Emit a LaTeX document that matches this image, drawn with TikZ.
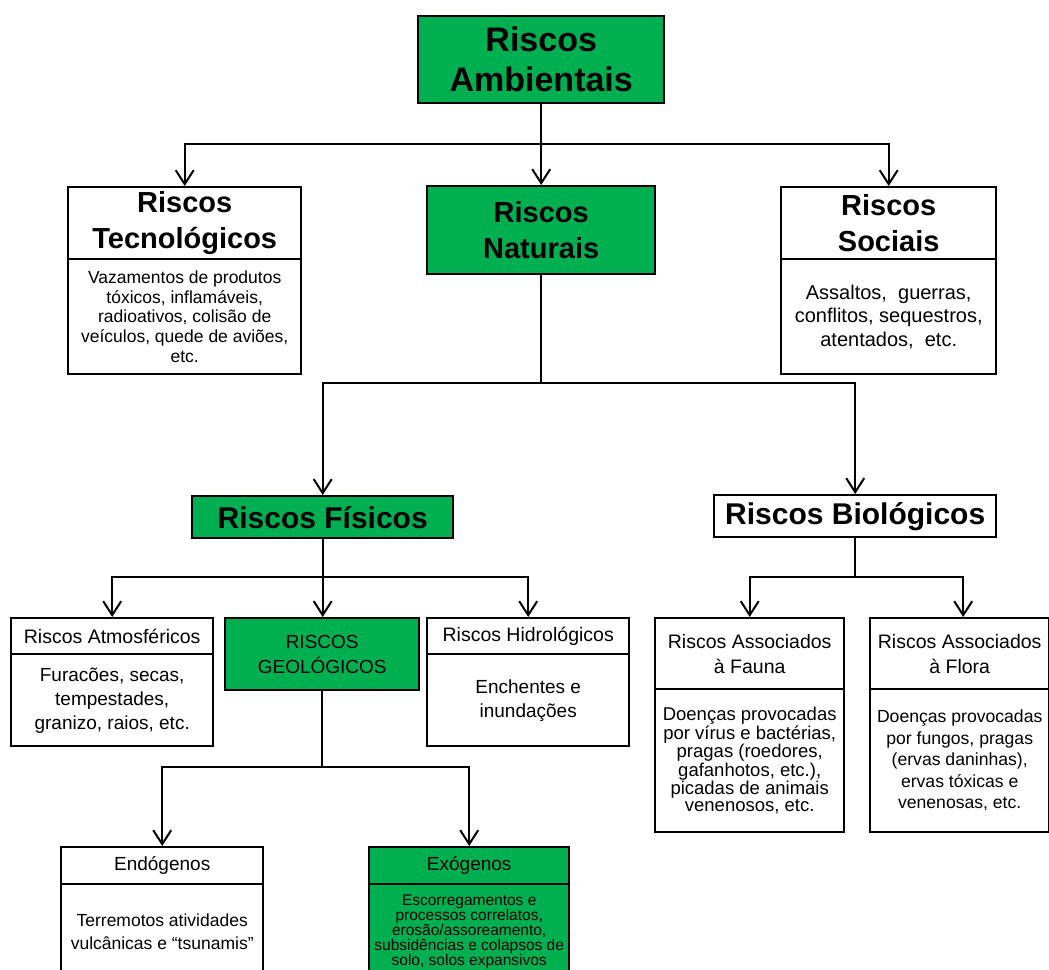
\documentclass[tikz,border=0pt]{standalone}
\usepackage{fontspec}
\setmainfont{Liberation Sans}
\usetikzlibrary{arrows.meta}
\definecolor{xgreen}{RGB}{0,176,80}
\newcommand{\fs}[2]{\fontsize{#1}{#2}\selectfont}
\tikzset{
  bx/.style={draw=black, line width=2.4pt, inner sep=0pt, align=center, anchor=north west},
  gr/.style={fill=xgreen},
  ln/.style={line width=2pt},
  arr/.style={line width=2pt, -{Straight Barb[length=14pt,width=18pt]}},
  big/.style={font=\fs{34}{40}\bfseries},
  head/.style={font=\fs{29}{36}\bfseries},
  headone/.style={font=\fs{30}{36}\bfseries},
  mid/.style={font=\fs{19.5}{24.5}},
}
\begin{document}
\begin{tikzpicture}[x=1pt,y=-1pt]
\useasboundingbox (0,0) rectangle (1049,969);
\clip (0,0) rectangle (1049,969);
% top
\node[bx,gr,big,minimum width=246pt,minimum height=87pt] (amb) at (417,15) {Riscos\\Ambientais};
\node[bx,head,minimum width=233pt,minimum height=72pt] (tecH) at (67,186) {Riscos\\Tecnológicos};
\node[bx,font=\fs{17.5}{19.6},minimum width=233pt,minimum height=115pt] (tecB) at (67,258) {Vazamentos de produtos\\tóxicos, inflamáveis,\\radioativos, colisão de\\veículos, quede de aviões,\\etc.};
\node[bx,gr,head,minimum width=228pt,minimum height=88pt] (nat) at (426,185) {Riscos\\Naturais};
\node[bx,head,minimum width=215pt,minimum height=72pt] (socH) at (780,186) {Riscos\\Sociais};
\node[bx,font=\fs{20}{23.5},minimum width=215pt,minimum height=115pt] (socB) at (780,258) {Assaltos,\ \ guerras,\\conflitos, sequestros,\\atentados,\ \ etc.};
% second level
\node[bx,gr,headone,minimum width=261pt,minimum height=42pt] (fis) at (191,495) {Riscos Físicos};
\node[bx,headone,minimum width=282pt,minimum height=42pt] (bio) at (713,494) {Riscos Biológicos};
% third level (physical)
\node[bx,mid,minimum width=202pt,minimum height=36pt] (atmH) at (10,617) {Riscos Atmosféricos};
\node[bx,font=\fs{19}{24},minimum width=202pt,minimum height=92pt] (atmB) at (10,653) {Furacões, secas,\\tempestades,\\granizo, raios, etc.};
\node[bx,gr,font=\fs{19}{25},minimum width=194pt,minimum height=72pt] (geo) at (224,617) {RISCOS\\GEOLÓGICOS};
\node[bx,mid,minimum width=202pt,minimum height=36pt] (hidH) at (426,617) {Riscos Hidrológicos};
\node[bx,font=\fs{19}{24},minimum width=202pt,minimum height=92pt] (hidB) at (426,653) {Enchentes e\\inundações};
% third level (biological)
\node[bx,font=\fs{19.5}{25},minimum width=189pt,minimum height=71pt] (fauH) at (654,617) {Riscos Associados\\à Fauna};
\node[bx,font=\fs{18.5}{17.2},minimum width=189pt,minimum height=143pt] (fauB) at (654,688) {Doenças provocadas\\por vírus e bactérias,\\pragas (roedores,\\gafanhotos, etc.),\\picadas de animais\\venenosos, etc.};
\node[bx,font=\fs{19.5}{25},minimum width=179pt,minimum height=71pt] (floH) at (869,617) {Riscos Associados\\à Flora};
\node[bx,font=\fs{17.6}{21.5},minimum width=179pt,minimum height=143pt] (floB) at (869,688) {Doenças provocadas\\por fungos, pragas\\(ervas daninhas),\\ervas tóxicas e\\venenosas, etc.};
% fourth level
\node[bx,font=\fs{19}{24},minimum width=202pt,minimum height=37pt] (endH) at (60,846) {Endógenos};
\node[bx,font=\fs{17.5}{23},minimum width=202pt,minimum height=95pt] (endB) at (60,883) {Terremotos atividades\\vulcânicas e “tsunamis”};
\node[bx,gr,font=\fs{19}{24},minimum width=200pt,minimum height=37pt] (exoH) at (368,846) {Exógenos};
\node[bx,gr,font=\fs{15.5}{15},minimum width=200pt,minimum height=95pt] (exoB) at (368,883) {Escorregamentos e\\processos correlatos,\\erosão/assoreamento,\\subsidências e colapsos de\\solo, solos expansivos};
% junctions (exactly below the parent box)
\coordinate (j1) at (amb.south |- 0,144);
\coordinate (j2) at (nat.south |- 0,383);
\coordinate (j3) at (fis.south |- 0,577);
\coordinate (j4) at (bio.south |- 0,577);
\coordinate (j5) at (geo.south |- 0,767);
% connectors
\draw[ln] (amb.south) -- (j1);
\draw[arr] (j1) -| (tecH.north);
\draw[arr] (j1) -- (nat.north);
\draw[arr] (j1) -| (socH.north);
\draw[ln] (nat.south) -- (j2);
\draw[arr] (j2) -| (fis.north);
\draw[arr] (j2) -| (bio.north);
\draw[ln] (fis.south) -- (j3);
\draw[arr] (j3) -| (atmH.north);
\draw[arr] (j3) -- (geo.north -| j3);
\draw[arr] (j3) -| (hidH.north);
\draw[ln] (bio.south) -- (j4);
\draw[arr] (j4) -| (fauH.north);
\draw[arr] (j4) -| ([xshift=3.5pt]floH.north);
\draw[ln] (geo.south) -- (j5);
\draw[arr] (j5) -| (endH.north);
\draw[arr] (j5) -| (exoH.north);
\end{tikzpicture}
\end{document}
